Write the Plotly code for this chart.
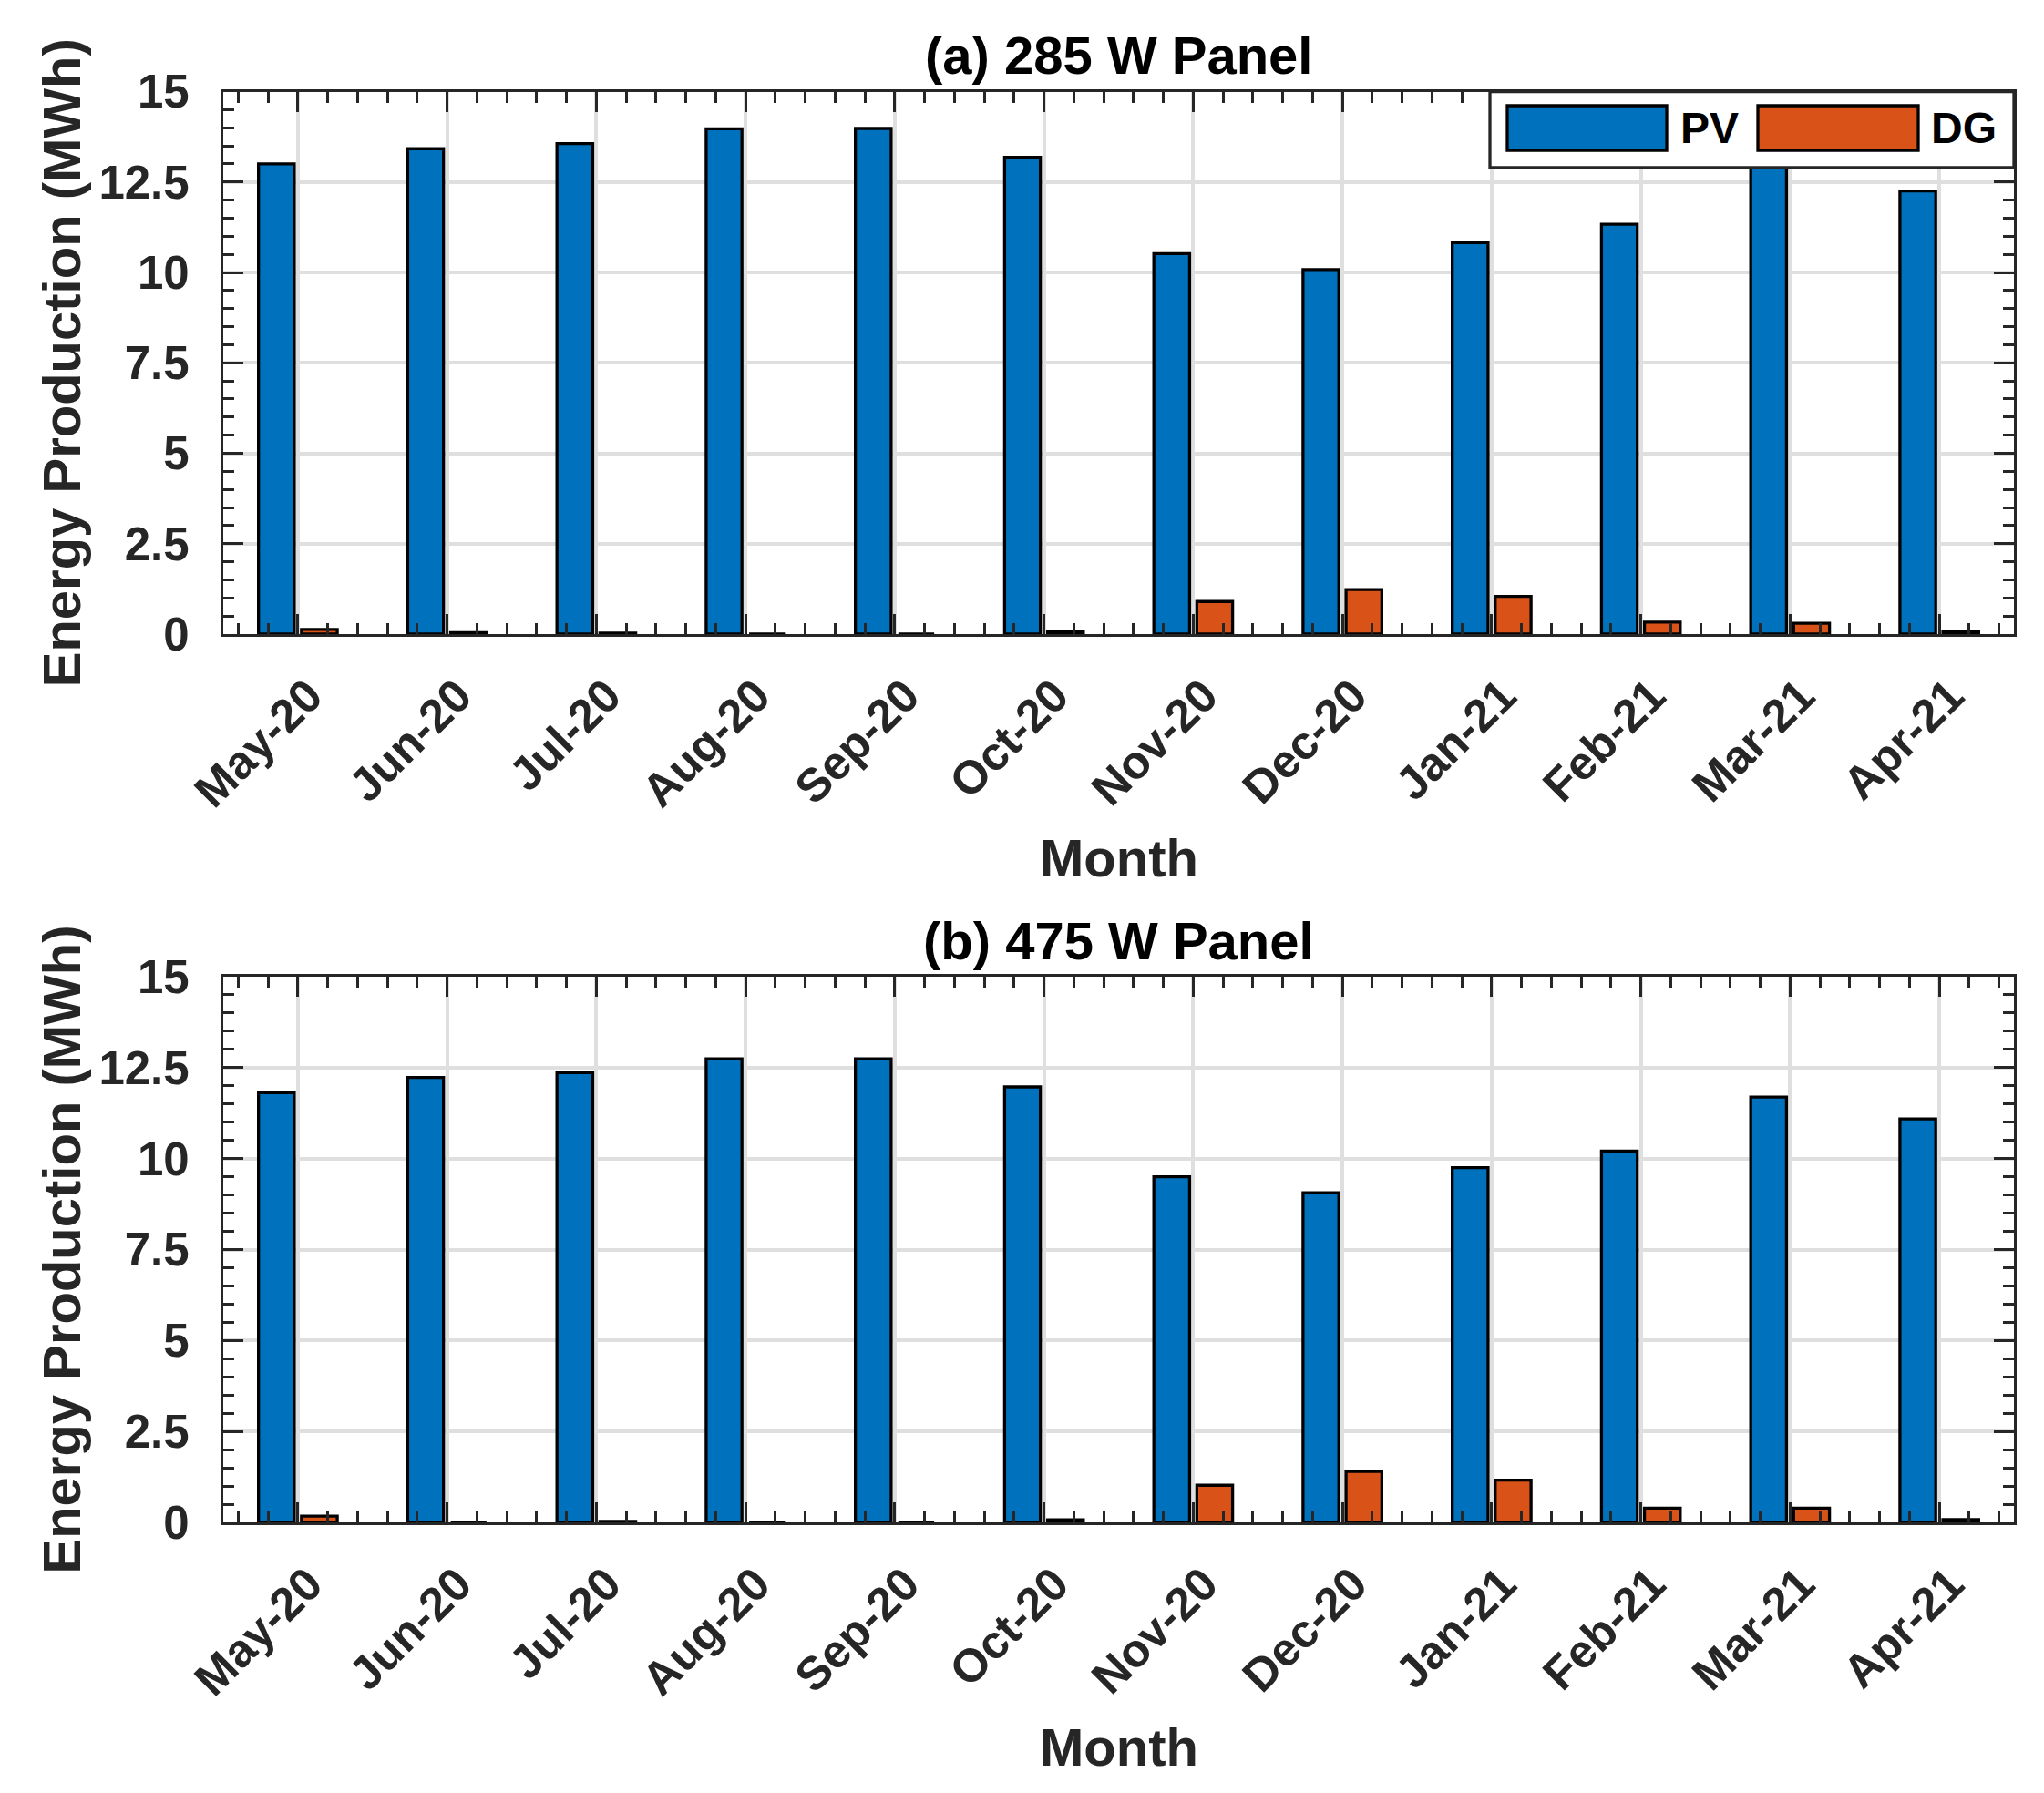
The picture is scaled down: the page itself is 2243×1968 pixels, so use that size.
import plotly.graph_objects as go

months = ["May-20", "Jun-20", "Jul-20", "Aug-20", "Sep-20", "Oct-20",
          "Nov-20", "Dec-20", "Jan-21", "Feb-21", "Mar-21", "Apr-21"]
pv_285 = [13.0, 13.42, 13.56, 13.97, 13.98, 13.18, 10.52, 10.08, 10.82, 11.33, 12.95, 12.25]
dg_285 = [0.13, 0.04, 0.03, 0.0, 0.0, 0.06, 0.90, 1.23, 1.04, 0.33, 0.30, 0.08]
pv_475 = [11.81, 12.23, 12.36, 12.74, 12.74, 11.97, 9.50, 9.06, 9.75, 10.21, 11.69, 11.09]
dg_475 = [0.17, 0.0, 0.03, 0.0, 0.0, 0.07, 1.02, 1.40, 1.16, 0.39, 0.39, 0.08]
panel_titles = ["(a) 285 W Panel", "(b) 475 W Panel"]
series_names = ["PV", "DG"]
y_ticks = [0, 2.5, 5, 7.5, 10, 12.5, 15]
y_ticktext = ["0", "2.5", "5", "7.5", "10", "12.5", "15"]

PV_COLOR = "#0072BD"
DG_COLOR = "#D95319"
AX = "#262626"
FONT = "Liberation Sans, Arial, Helvetica, sans-serif"

xs = list(range(1, len(months) + 1))

fig = go.Figure()
for i, (pv, dg) in enumerate([(pv_285, dg_285), (pv_475, dg_475)]):
    suffix = "" if i == 0 else "2"
    fig.add_trace(go.Bar(x=xs, y=pv, name=series_names[0], marker=dict(color=PV_COLOR, line=dict(color="black", width=3.3)),
                         xaxis="x" + suffix, yaxis="y" + suffix, showlegend=False))
    fig.add_trace(go.Bar(x=xs, y=dg, name=series_names[1], marker=dict(color=DG_COLOR, line=dict(color="black", width=3.3)),
                         xaxis="x" + suffix, yaxis="y" + suffix, showlegend=False))

W, H = 2243, 1968
xdom = [245 / W, 2210 / W]
ydom_top = [1 - 696 / H, 1 - 100.5 / H]
ydom_bot = [1 - 1671 / H, 1 - 1072 / H]

tickfont = dict(family=FONT, size=51, color=AX, weight="bold")

def xaxis(anchor, dom):
    return dict(domain=dom, anchor=anchor, range=[0.5, len(months) + 0.5], automargin=False,
                tickmode="array", tickvals=xs, ticktext=months, tickangle=-45,
                ticks="inside", ticklen=22, tickwidth=3.3, tickcolor=AX,
                showline=True, linewidth=3.3, linecolor=AX, mirror="allticks",
                showgrid=True, gridcolor="#dfdfdf", gridwidth=3.5, zeroline=False,
                tickfont=tickfont, ticklabelstandoff=14, ticklabelshift=12,
                minor=dict(tickmode="linear", tick0=0, dtick=0.2, ticks="inside", ticklen=12,
                           tickwidth=3.3, tickcolor=AX, showgrid=False))

def yaxis(anchor, dom):
    return dict(domain=dom, anchor=anchor, range=[0, 15], automargin=False,
                tickmode="array", tickvals=y_ticks, ticktext=y_ticktext,
                ticks="inside", ticklen=22, tickwidth=3.3, tickcolor=AX,
                showline=True, linewidth=3.3, linecolor=AX, mirror="allticks",
                showgrid=True, gridcolor="#dfdfdf", gridwidth=3.5, zeroline=False,
                tickfont=tickfont, ticklabelstandoff=24,
                minor=dict(tickmode="linear", tick0=0, dtick=0.5, ticks="inside", ticklen=12,
                           tickwidth=3.3, tickcolor=AX, showgrid=False))

label_font = dict(family=FONT, size=58, color=AX, weight="bold")
title_font = dict(family=FONT, size=58, color="black", weight="bold")

xmid = (xdom[0] + xdom[1]) / 2
annotations = []
for dom, title, month_y in [(ydom_top, panel_titles[0], 1 - 941 / H), (ydom_bot, panel_titles[1], 1 - 1917 / H)]:
    annotations.append(dict(text=title, x=xmid, y=dom[1] + 40 / H, xref="paper", yref="paper",
                            showarrow=False, font=title_font, xanchor="center", yanchor="middle"))
    annotations.append(dict(text="Month", x=xmid, y=month_y, xref="paper", yref="paper",
                            showarrow=False, font=label_font, xanchor="center", yanchor="middle"))
    annotations.append(dict(text="Energy Production (MWh)", x=67 / W, y=(dom[0] + dom[1]) / 2,
                            xref="paper", yref="paper", textangle=-90, showarrow=False,
                            font=label_font, xanchor="center", yanchor="middle"))

# Legend (top panel), drawn in axis-domain coordinates
leg_font = dict(family=FONT, size=48, color="black", weight="bold")
def dx(px):
    return (px - 245) / (2210 - 245)
def dy(py):
    return (696 - py) / (696 - 100.5)

shapes = [
    dict(type="rect", xref="x domain", yref="y domain", x0=dx(1635), x1=dx(2210), y0=dy(184), y1=dy(100.5),
         fillcolor="white", line=dict(color=AX, width=3.3), layer="above"),
    dict(type="rect", xref="x domain", yref="y domain", x0=dx(1654), x1=dx(1829), y0=dy(165), y1=dy(116),
         fillcolor=PV_COLOR, line=dict(color="black", width=3.3), layer="above"),
    dict(type="rect", xref="x domain", yref="y domain", x0=dx(1929), x1=dx(2105), y0=dy(165), y1=dy(116),
         fillcolor=DG_COLOR, line=dict(color="black", width=3.3), layer="above"),
]
annotations.append(dict(text=series_names[0], x=dx(1842), y=dy(141), xref="x domain", yref="y domain",
                        showarrow=False, font=leg_font, xanchor="left", yanchor="middle"))
annotations.append(dict(text=series_names[1], x=dx(2117), y=dy(141), xref="x domain", yref="y domain",
                        showarrow=False, font=leg_font, xanchor="left", yanchor="middle"))

fig.update_layout(
    width=W, height=H, margin=dict(l=0, r=0, t=0, b=0, autoexpand=False),
    paper_bgcolor="white", plot_bgcolor="white",
    barmode="group", bargap=0.424, bargroupgap=0.167,
    xaxis=xaxis("y", xdom), yaxis=yaxis("x", ydom_top),
    xaxis2=xaxis("y2", xdom), yaxis2=yaxis("x2", ydom_bot),
    annotations=annotations, shapes=shapes, showlegend=False,
)

fig.write_html("out.html", config={"displayModeBar": False},
               post_script="document.body.style.margin='0';document.body.style.overflow='hidden';")
